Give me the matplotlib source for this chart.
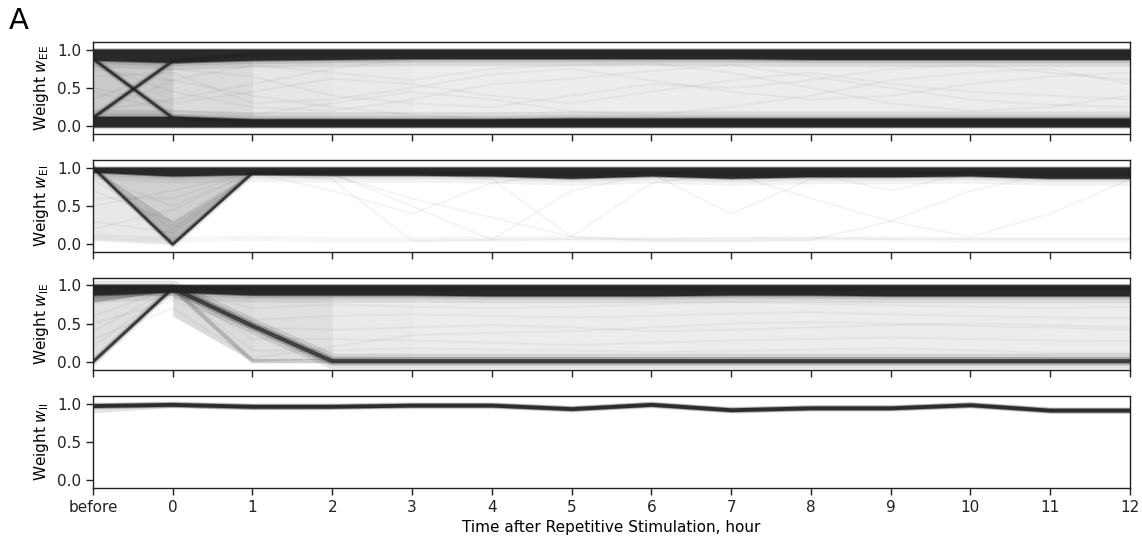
import numpy as np
import matplotlib
matplotlib.use("Agg")
import matplotlib.pyplot as plt

nan = np.nan

# Time axis: "before" the stimulation, then hours 0..12 after it
t = np.arange(-1, 13)
tick_labels = ["before"] + [str(h) for h in range(13)]
ylabels = [r"Weight $w_{\rm EE}$", r"Weight $w_{\rm EI}$",
           r"Weight $w_{\rm IE}$", r"Weight $w_{\rm II}$"]

# ---------------- w_EE ----------------
ee_top_lo = [0.87, 0.84, 0.87, 0.88, 0.89, 0.89, 0.89, 0.89, 0.89, 0.88, 0.88, 0.88, 0.88, 0.88]
ee_top_hi = [1.00] * 14
ee_bot_lo = [0.00] * 14
ee_bot_hi = [0.12, 0.12, 0.09, 0.09, 0.09, 0.09, 0.10, 0.10, 0.10, 0.10, 0.10, 0.10, 0.10, 0.10]
ee_haze = [0.24, 0.16, 0.11, 0.09, 0.08, 0.08, 0.08, 0.08, 0.08, 0.08, 0.08, 0.08, 0.08]
ee_cross_down = [0.88, 0.11, 0.05, 0.05, 0.05, 0.05, 0.05, 0.05, 0.05, 0.05, 0.05, 0.05, 0.05, 0.05]
ee_cross_up = [0.11, 0.85, 0.94, 0.94, 0.94, 0.94, 0.94, 0.94, 0.94, 0.94, 0.94, 0.94, 0.94, 0.94]
ee_traces = [
    [0.20, 0.35, 0.55, 0.75, 0.88, 0.90, 0.90, 0.89, 0.90, 0.90, 0.89, 0.89, 0.89, 0.89],
    [0.75, 0.60, 0.40, 0.25, 0.15, 0.10, 0.09, 0.09, 0.10, 0.10, 0.10, 0.10, 0.10, 0.10],
    [0.50, 0.30, 0.45, 0.62, 0.55, 0.40, 0.30, 0.45, 0.60, 0.70, 0.55, 0.45, 0.40, 0.35],
    [0.65, 0.70, 0.30, 0.35, 0.50, 0.68, 0.75, 0.60, 0.45, 0.35, 0.40, 0.55, 0.65, 0.70],
    [0.35, 0.75, 0.65, 0.40, 0.30, 0.25, 0.40, 0.55, 0.50, 0.60, 0.75, 0.80, 0.70, 0.60],
    [0.80, 0.45, 0.25, 0.20, 0.35, 0.55, 0.62, 0.72, 0.80, 0.65, 0.50, 0.35, 0.28, 0.25],
    [0.15, 0.60, 0.80, 0.70, 0.60, 0.75, 0.80, 0.82, 0.70, 0.50, 0.30, 0.20, 0.25, 0.40],
    [0.45, 0.20, 0.15, 0.30, 0.45, 0.35, 0.20, 0.15, 0.25, 0.40, 0.60, 0.70, 0.75, 0.55],
]

# ---------------- w_EI ----------------
ei_top_lo = [0.95, 0.90, 0.92, 0.91, 0.91, 0.90, 0.87, 0.90, 0.87, 0.89, 0.89, 0.90, 0.87, 0.87]
ei_top_hi = [1.00] * 14
ei_v = [1.00, 0.00, 0.93, 0.94, 0.94, 0.93, 0.92, 0.94, 0.92, 0.93, 0.93, 0.94, 0.92, 0.92]
ei_fan_lo = [0.05, 0.00, 0.93] + [nan] * 11
ei_fan_hi = [0.95, 0.90, 0.93] + [nan] * 11
ei_wedge_lo = [1.00, 0.00, 0.93] + [nan] * 11
ei_wedge_hi = [1.00, 0.88, 0.93] + [nan] * 11
ei_tip_hi = [1.00, 0.30, 0.93] + [nan] * 11
ei_floor = [0.10, 0.06, 0.08, 0.06, 0.06, 0.07, 0.07, 0.06, 0.06, 0.07, 0.07, 0.06, 0.06, 0.06]
ei_traces = [
    [0.90, 0.50, 0.93, 0.85, 0.05, 0.06, 0.07, 0.07, 0.08, 0.08, 0.07, 0.07, 0.07, 0.07],
    [0.70, 0.30, 0.93, 0.92, 0.50, 0.06, 0.70, 0.92, 0.92, 0.92, 0.92, 0.92, 0.92, 0.92],
    [0.60, 0.60, 0.94, 0.94, 0.93, 0.85, 0.10, 0.80, 0.93, 0.93, 0.93, 0.93, 0.93, 0.93],
    [0.30, 0.15, 0.92, 0.94, 0.94, 0.94, 0.94, 0.92, 0.40, 0.85, 0.93, 0.93, 0.93, 0.93],
    [0.20, 0.45, 0.93, 0.90, 0.60, 0.35, 0.10, 0.05, 0.05, 0.06, 0.30, 0.70, 0.92, 0.92],
    [0.50, 0.70, 0.93, 0.93, 0.93, 0.93, 0.93, 0.93, 0.92, 0.60, 0.30, 0.10, 0.40, 0.85],
    [0.85, 0.20, 0.93, 0.70, 0.40, 0.80, 0.93, 0.93, 0.93, 0.93, 0.70, 0.93, 0.93, 0.93],
]

# ---------------- w_IE ----------------
ie_top_lo = [0.88, 0.92, 0.88, 0.88, 0.88, 0.87, 0.87, 0.87, 0.88, 0.88, 0.87, 0.87, 0.87, 0.87]
ie_top_hi = [1.00] * 14
ie_rise = [0.00, 0.96, 0.95, 0.95, 0.95, 0.95, 0.95, 0.95, 0.95, 0.95, 0.95, 0.95, 0.95, 0.95]
ie_fall = [0.96, 0.96, 0.47, 0.01, 0.01, 0.01, 0.01, 0.01, 0.01, 0.01, 0.01, 0.01, 0.01, 0.01]
ie_early = [0.96, 0.96, 0.01, 0.01, 0.01, 0.01, 0.01, 0.01, 0.01, 0.01, 0.01, 0.01, 0.01, 0.01]
ie_left_lo = [0.03, 0.95] + [nan] * 12
ie_left_hi = [0.86, 0.95] + [nan] * 12
ie_under_lo = [0.78, 0.93] + [nan] * 12
ie_under_hi = [0.88, 0.93] + [nan] * 12
ie_haze_lo = [nan, 0.60, 0.01, 0.04, 0.05, 0.05, 0.05, 0.05, 0.05, 0.05, 0.05, 0.05, 0.05, 0.05]
ie_haze_hi = [nan, 0.95, 0.86, 0.87, 0.87, 0.86, 0.86, 0.86, 0.87, 0.87, 0.86, 0.86, 0.86, 0.86]
ie_haze = [0.0, 0.16, 0.14, 0.09, 0.08, 0.08, 0.08, 0.08, 0.08, 0.08, 0.08, 0.08, 0.08]
ie_traces = [
    [0.40, 0.96, 0.30, 0.30, 0.28, 0.25, 0.22, 0.25, 0.28, 0.30, 0.32, 0.30, 0.28, 0.27],
    [0.60, 0.96, 0.55, 0.60, 0.62, 0.60, 0.58, 0.60, 0.63, 0.65, 0.62, 0.60, 0.58, 0.57],
    [0.20, 0.96, 0.70, 0.75, 0.72, 0.70, 0.72, 0.75, 0.78, 0.76, 0.74, 0.72, 0.70, 0.72],
    [0.75, 0.96, 0.15, 0.15, 0.18, 0.16, 0.15, 0.13, 0.14, 0.16, 0.18, 0.15, 0.12, 0.12],
    [0.50, 0.80, 0.45, 0.42, 0.45, 0.48, 0.45, 0.40, 0.42, 0.45, 0.48, 0.50, 0.48, 0.45],
    [0.30, 0.70, 0.05, 0.20, 0.35, 0.38, 0.40, 0.45, 0.50, 0.52, 0.50, 0.47, 0.45, 0.42],
]

# ---------------- w_II ----------------
ii_band = [0.975, 0.99, 0.965, 0.965, 0.98, 0.98, 0.935, 0.99, 0.92, 0.945, 0.945, 0.985, 0.915, 0.915]
ii_tail_lo = [0.88, 0.95, 0.92, 0.93] + [nan] * 10
ii_tail_hi = [0.96, 0.97, 0.95, 0.95] + [nan] * 10

INK = "#232323"


def fill(ax, lo, hi, alpha, x=None):
    x = t if x is None else x
    ax.fill_between(x, np.asarray(lo, float), np.asarray(hi, float),
                    color=INK, alpha=alpha, lw=0)


def haze(ax, lo, hi, alphas):
    """Trace density between lo and hi; one alpha per hour interval.
    A common base layer is drawn in one piece so no seams show."""
    lo = np.asarray(lo, float)
    hi = np.asarray(hi, float)
    alphas = np.asarray(alphas, float)
    base = alphas[-1]
    fill(ax, lo, hi, base)
    i = 0
    while i < len(alphas):
        extra = 1 - (1 - alphas[i]) / (1 - base)
        if extra > 1e-3:
            fill(ax, lo[i:i + 2], hi[i:i + 2], extra, x=t[i:i + 2])
        i += 1


def dark_band(ax, lo, hi, shoulder=1.0, side="below"):
    lo = np.asarray(lo, float)
    hi = np.asarray(hi, float)
    if side == "below":
        edge = lo
        fill(ax, edge - 0.10, edge, 0.09 * shoulder)
        fill(ax, edge - 0.05, edge, 0.13 * shoulder)
    else:
        edge = hi
        fill(ax, edge, edge + 0.10, 0.09 * shoulder)
        fill(ax, edge, edge + 0.05, 0.13 * shoulder)
    fill(ax, lo - 0.02, hi + 0.02, 0.45)
    fill(ax, lo - 0.008, hi + 0.008, 0.95)


def trace(ax, y, lw=1.0, alpha=0.05):
    ax.plot(t, y, color=INK, lw=lw, alpha=alpha, solid_capstyle="butt")


def strong_line(ax, y, lw=2.2):
    ax.plot(t, y, color=INK, lw=lw * 2.2, alpha=0.18)
    ax.plot(t, y, color=INK, lw=lw, alpha=0.85)


fig = plt.figure(figsize=(11.42, 5.48), dpi=100)
left, width, height = 0.0814, 0.908, 0.168
bottoms = [0.7555, 0.5400, 0.3255, 0.1095]
axes = [fig.add_axes([left, b, width, height]) for b in bottoms]

# w_EE panel
ax = axes[0]
haze(ax, ee_bot_hi, ee_top_lo, ee_haze)
for tr in ee_traces:
    trace(ax, tr, lw=1.5, alpha=0.045)
dark_band(ax, ee_top_lo, ee_top_hi, side="below")
dark_band(ax, ee_bot_lo, ee_bot_hi, side="above")
strong_line(ax, ee_cross_down)
strong_line(ax, ee_cross_up)

# w_EI panel
ax = axes[1]
fill(ax, ei_fan_lo, ei_fan_hi, 0.10)
fill(ax, ei_wedge_lo, ei_wedge_hi, 0.12)
fill(ax, ei_wedge_lo, ei_tip_hi, 0.15)
ax.plot(t, ei_floor, color=INK, lw=4, alpha=0.04)
for tr in ei_traces:
    trace(ax, tr, lw=1.2, alpha=0.05)
dark_band(ax, ei_top_lo, ei_top_hi, shoulder=0.6, side="below")
strong_line(ax, ei_v, lw=2.0)

# w_IE panel
ax = axes[2]
fill(ax, ie_left_lo, ie_left_hi, 0.14)
fill(ax, ie_under_lo, ie_under_hi, 0.30)
haze(ax, ie_haze_lo, ie_haze_hi, ie_haze)
for tr in ie_traces:
    trace(ax, tr, lw=1.5, alpha=0.045)
dark_band(ax, ie_top_lo, ie_top_hi, side="below")
ax.plot(t, ie_early, color=INK, lw=3.0, alpha=0.22)
ax.plot(t, ie_fall, color=INK, lw=11, alpha=0.12)
ax.plot(t, ie_fall, color=INK, lw=6, alpha=0.28)
ax.plot(t, ie_fall, color=INK, lw=3.0, alpha=0.75)
strong_line(ax, ie_rise, lw=2.2)

# w_II panel
ax = axes[3]
fill(ax, ii_tail_lo, ii_tail_hi, 0.12)
ii = np.asarray(ii_band)
fill(ax, ii - 0.045, ii + 0.045, 0.12)
fill(ax, ii - 0.035, ii + 0.035, 0.35)
fill(ax, ii - 0.025, ii + 0.025, 0.92)

for i, ax in enumerate(axes):
    ax.set_xlim(-1, 12)
    ax.set_ylim(-0.1, 1.1)
    ax.set_yticks([0.0, 0.5, 1.0])
    ax.set_yticklabels(["0.0", "0.5", "1.0"])
    ax.set_xticks(t)
    ax.set_xticklabels(tick_labels)
    ax.tick_params(labelsize=11, length=5, width=1.0, colors="#222222")
    if i < 3:
        ax.tick_params(labelbottom=False)
    ax.set_ylabel(ylabels[i], fontsize=11)
    for sp in ax.spines.values():
        sp.set_linewidth(1.0)
        sp.set_color("#222222")

axes[3].set_xlabel("Time after Repetitive Stimulation, hour", fontsize=11)
fig.text(0.008, 0.988, "A", fontsize=21, va="top", ha="left")

fig.savefig("out.png", dpi=100)
